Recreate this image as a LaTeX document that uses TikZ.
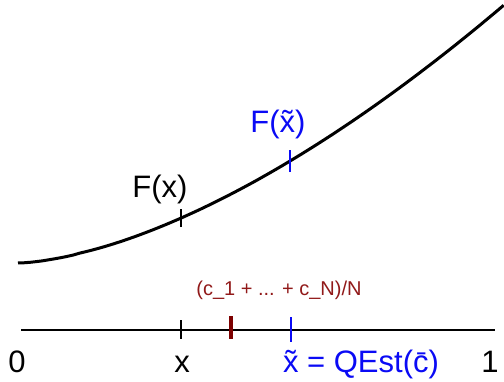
\documentclass[tikz,border=0pt]{standalone}
\usepackage{fontspec}
\setmainfont{Liberation Sans}
\definecolor{myblue}{RGB}{10,10,245}
\definecolor{mydark}{RGB}{125,0,0}
\definecolor{myredtext}{RGB}{145,25,25}
\begin{document}
\begin{tikzpicture}[x=1pt,y=-1pt,
  bigtxt/.style={font=\fontsize{31}{33}\selectfont,anchor=base,inner sep=0pt},
  smalltxt/.style={font=\fontsize{20}{22}\selectfont,anchor=base,inner sep=0pt,text=myredtext},
  tickline/.style={line width=2.5pt},
  curveline/.style={line width=3pt},
  axisline/.style={line width=2pt}]
\useasboundingbox (0,0) rectangle (504,382);
% curve
\draw[curveline,variable=\t,samples=80,domain=0:1] plot ({18+486*\t},{263-258*pow(\t+0.000001,1.6)});
\coordinate (Fx) at (181,{263-258*pow(163/486,1.6)});
\coordinate (Fxt) at (290,{263-258*pow(272/486,1.6)});
\draw[tickline] ([yshift=-9pt]Fx) -- ([yshift=9pt]Fx);
\draw[tickline,myblue] ([yshift=-11pt]Fxt) -- ([yshift=11pt]Fxt);
\node[bigtxt] (lFx) at (160,198) {F(x)};
\node[bigtxt,text=myblue] (lFxt) at (278,133) {F(x̃)};
% axis
\coordinate (A0) at (21,330);
\coordinate (A1) at (495,330);
\draw[axisline] (A0) -- (A1);
\coordinate (Tx) at (181,330);
\coordinate (Tc) at (231,330);
\coordinate (Tq) at (291,330);
\draw[tickline] ([yshift=-9pt]Tx) -- ([yshift=10pt]Tx);
\draw[line width=3.5pt,mydark] ([yshift=-9pt]Tc) -- ([yshift=14pt]Tc);
\draw[tickline,myblue] ([yshift=-12pt]Tq) -- ([yshift=13pt]Tq);
\node[smalltxt] (lavg) at (279,296) {(c\_1 + ... + c\_N)/N};
\node[bigtxt] (l0) at (17,373) {0};
\node[bigtxt] (lx) at (182,373) {x};
\node[bigtxt,text=myblue] (lq) at (361,373) {x̃ = QEst(c̄)};
\node[bigtxt] (l1) at (490,373) {1};
\end{tikzpicture}
\end{document}
